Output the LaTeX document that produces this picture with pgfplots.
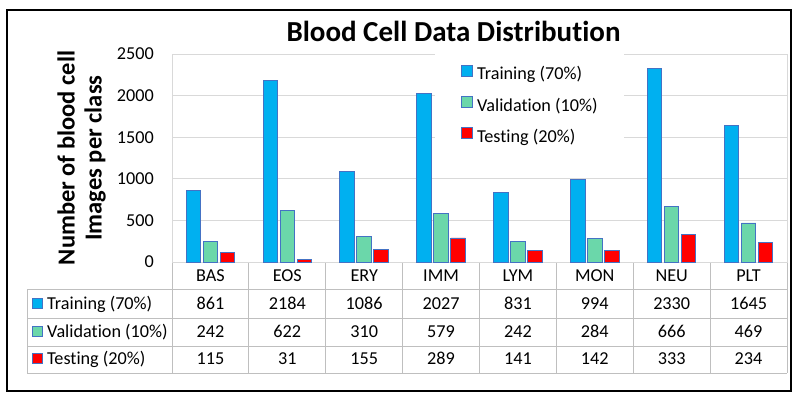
\documentclass[border=0pt]{standalone}
\usepackage{pgfplots}
\pgfplotsset{compat=1.18}
\usepackage{pgfplotstable}
\usepackage{fontspec}
\setmainfont{Carlito}[Ligatures=NoCommon]
\definecolor{trainc}{HTML}{00B0F0}
\definecolor{valc}{HTML}{6BD7AA}
\definecolor{testc}{HTML}{FF0000}
\definecolor{edgec}{HTML}{4472C4}
\definecolor{gridc}{HTML}{D9D9D9}
\definecolor{tabc}{HTML}{BFBFBF}

\pgfplotstableread{
x cat train val test
0 BAS 861 242 115
1 EOS 2184 622 31
2 ERY 1086 310 155
3 IMM 2027 579 289
4 LYM 831 242 141
5 MON 994 284 142
6 NEU 2330 666 333
7 PLT 1645 469 234
}\datatable

\newcommand{\fs}{\fontsize{18.2}{21}\selectfont}

\begin{document}
\begin{tikzpicture}
\path[use as bounding box] (0pt,0pt) rectangle (799pt,-400pt);
\draw[black, line width=1.3pt] (7pt,-10pt) rectangle (791pt,-391pt);
\node[anchor=base, inner sep=0pt, font=\fontsize{29}{32}\selectfont\bfseries] at (453.5pt,-41pt) {Blood Cell Data Distribution};
% table grid
\begin{scope}[draw=tabc, line width=1pt]
\foreach \k in {0,...,8} {
  \pgfmathsetmacro\xx{172+76.875*\k}
  \draw (\xx pt,-262pt) -- (\xx pt,-373pt);
}
\draw (27pt,-289pt) -- (27pt,-373pt);
\foreach \yy in {289,318,346,373} \draw (27pt,-\yy pt) -- (787pt,-\yy pt);
\end{scope}
% row labels
\foreach \yb/\col/\lab in {309.3/trainc/Training (70\%), 337.3/valc/Validation (10\%), 364.3/testc/Testing (20\%)} {
  \pgfmathsetmacro\ya{-\yb+1.3}
  \pgfmathsetmacro\yc{-\yb+11.3}
  \draw[edgec, fill=\col, line width=0.8pt] (32pt,\ya pt) rectangle (42pt,\yc pt);
  \node[anchor=base west, inner sep=0pt, font=\fs] at (47pt,-\yb pt) {\lab};
}
% values
\foreach \i in {0,...,7} {
  \pgfmathsetmacro\xx{172+76.875*(\i+0.5)}
  \pgfplotstablegetelem{\i}{train}\of\datatable
  \node[anchor=base, inner sep=0pt, font=\fs] at (\xx pt,-309.3pt) {\pgfplotsretval};
  \pgfplotstablegetelem{\i}{val}\of\datatable
  \node[anchor=base, inner sep=0pt, font=\fs] at (\xx pt,-337.3pt) {\pgfplotsretval};
  \pgfplotstablegetelem{\i}{test}\of\datatable
  \node[anchor=base, inner sep=0pt, font=\fs] at (\xx pt,-364.3pt) {\pgfplotsretval};
}
\begin{axis}[
  at={(172pt,-262pt)}, anchor=south west, scale only axis,
  width=615pt, height=208pt,
  xmin=-0.5, xmax=7.5, ymin=0, ymax=2500,
  ytick={0,500,1000,1500,2000,2500},
  xtick={0,...,7}, xticklabels from table={\datatable}{cat},
  major tick length=0pt,
  ymajorgrids, grid style={gridc, line width=0.9pt},
  axis line style={gridc, line width=0.9pt},
  /pgf/number format/assume math mode=true,
  /pgf/number format/1000 sep={},
  yticklabel style={font=\fs, inner sep=0pt, anchor=east, xshift=-18pt},
  xticklabel style={font=\fs, inner sep=0pt, anchor=base, yshift=-19.7pt},
  ybar=2.5pt, bar width=14.5pt,
  ylabel={Number of blood cell\\Images per class},
  ylabel style={font=\fontsize{24.5}{27}\selectfont\bfseries, align=center, at={(axis description cs:-0.147,0.5)}, anchor=center},
  legend style={at={(axis description cs:0.4276,1.0096)}, anchor=north west, draw=none, fill=white, font=\fs, inner xsep=26pt, inner ysep=12.7pt, row sep=12.3pt, column sep=4.5pt, nodes={inner sep=0pt, text height=12pt, text depth=4pt}},
  legend cell align=left,
  legend image code/.code={\draw[#1,/tikz/.cd] (0pt,-0.5pt) rectangle (10.5pt,10.5pt);},
]
\addplot[fill=trainc, draw=edgec, line width=0.9pt] table[x=x,y=train]{\datatable};
\addplot[fill=valc, draw=edgec, line width=0.9pt] table[x=x,y=val]{\datatable};
\addplot[fill=testc, draw=edgec, line width=0.9pt] table[x=x,y=test]{\datatable};
\legend{Training (70\%), Validation (10\%), Testing (20\%)}
\end{axis}
\end{tikzpicture}
\end{document}
